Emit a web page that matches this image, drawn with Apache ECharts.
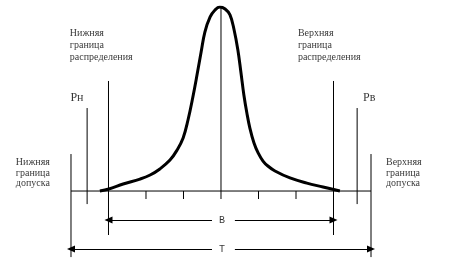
<!DOCTYPE html>
<html>
<head>
<meta charset="utf-8">
<script src="https://cdn.jsdelivr.net/npm/echarts@6/dist/echarts.min.js"></script>
<style>
  html, body { margin: 0; padding: 0; background: #fff; }
  #chart { width: 457px; height: 265px; }
</style>
</head>
<body>
<div id="chart"></div>
<script>
// кривая распределения (x в единицах шкалы, высота в % от пика)
const curveU = [-3.23, -2.99, -2.61, -2.16, -1.89, -1.63, -1.36, -1.17, -1.01, -0.88, -0.75, -0.64, -0.53, -0.43, -0.29, -0.16, -0.03,
  0.11, 0.24, 0.35, 0.45, 0.53, 0.61, 0.69, 0.77, 0.88, 0.99, 1.12, 1.25, 1.44, 1.84, 2.29, 2.72, 3.17]
const curveH = [0, 1.1, 3.8, 6.5, 8.7, 12.0, 16.8, 22.3, 28.8, 38.6, 51.1, 63.0, 75.5, 86.4, 94.6, 98.4, 100,
  98.9, 95.7, 87.5, 76.6, 64.7, 52.2, 42.4, 34.2, 26.1, 20.7, 16.3, 13.6, 10.9, 7.1, 4.3, 2.2, 0]

// вертикальные линии: положение и диапазон [верх, низ]
const toleranceU = [-4, 4]
const toleranceSpan = [20.1, -35.9]
const distU = [-3, 3]
const distSpan = [59.8, -23.9]
const pU = [-3.57, 3.63]
const pSpan = [45.1, -7.1]
const tickU = [-2, -1, 1, 2]
const tickSpan = [0, -4.35]
const centerSpan = [100, -4.35]

// стрелки В и Т
const arrowY = [-15.8, -31.5]
const arrowEnds = [[-3, 3], [-4, 4]]
const arrowGap = [-0.24, 0.37]
const arrowLabels = ['В', 'Т']

// подписи
const distLabels = ['Нижняя\nграница\nраспределения', 'Верхняя\nграница\nраспределения']
const distLabelU = [-4.03, 2.05]
const tolLabels = ['Нижняя\nграница\nдопуска', 'Верхняя\nграница\nдопуска']
const tolLabelU = [-5.47, 4.4]
const pLabels = ['Рн', 'Рв']
const pLabelU = [-3.84, 3.95]

const chart = echarts.init(document.getElementById('chart'))

const seg = (pts, width) => ({
  type: 'line',
  data: pts,
  showSymbol: false,
  silent: true,
  animation: false,
  lineStyle: { color: '#000', width: width || 1 }
})

const vlines = (us, span) => us.map(u => seg([[u, span[0]], [u, span[1]]]))

const textSeries = (pts, texts, label) => ({
  type: 'scatter',
  symbolSize: 0,
  silent: true,
  animation: false,
  data: pts.map((p, i) => ({ value: p, name: texts[i] })),
  label: Object.assign({
    show: true,
    position: [0, 0],
    formatter: p => p.name,
    color: '#000',
    fontFamily: 'Liberation Serif',
    fontSize: 10,
    verticalAlign: 'middle'
  }, label)
})

// стрелки: от разрыва к концу, наконечник на конце
const arrowLines = []
arrowY.forEach((y, i) => {
  arrowLines.push([{ coord: [arrowGap[0], y] }, { coord: [arrowEnds[i][0], y] }])
  arrowLines.push([{ coord: [arrowGap[1], y] }, { coord: [arrowEnds[i][1], y] }])
})

const option = {
  animation: false,
  grid: { left: 0, right: 0, top: 7, bottom: 0 },
  xAxis: { type: 'value', min: -5.893, max: 6.293, show: false },
  yAxis: { type: 'value', min: -40.2, max: 100, show: false },
  series: [
    seg([[toleranceU[0], 0], [toleranceU[1], 0]]),
    ...vlines(toleranceU, toleranceSpan),
    ...vlines(distU, distSpan),
    ...vlines(pU, pSpan),
    ...vlines(tickU, tickSpan),
    ...vlines([0], centerSpan),
    {
      type: 'line',
      data: curveU.map((u, i) => [u, curveH[i]]),
      smooth: 0.4,
      showSymbol: false,
      silent: true,
      lineStyle: { color: '#000', width: 3 },
      markLine: {
        silent: true,
        symbol: ['none', 'triangle'],
        symbolSize: [7, 8],
        symbolOffset: [5, 0],
        label: { show: false },
        lineStyle: { color: '#000', width: 1, type: 'solid' },
        data: arrowLines
      }
    },
    textSeries(distLabelU.map(u => [u, 79.3]), distLabels, { align: 'left', lineHeight: 12 }),
    textSeries(tolLabelU.map(u => [u, 9.8]), tolLabels, { align: 'left', lineHeight: 10.5 }),
    textSeries(pLabelU.map(u => [u, 50.5]), pLabels, { align: 'center', fontSize: 12 }),
    textSeries(arrowY.map(y => [0.03, y]), arrowLabels, { align: 'center', fontFamily: 'Liberation Mono', fontSize: 10 })
  ]
}

chart.setOption(option)
</script>
</body>
</html>
